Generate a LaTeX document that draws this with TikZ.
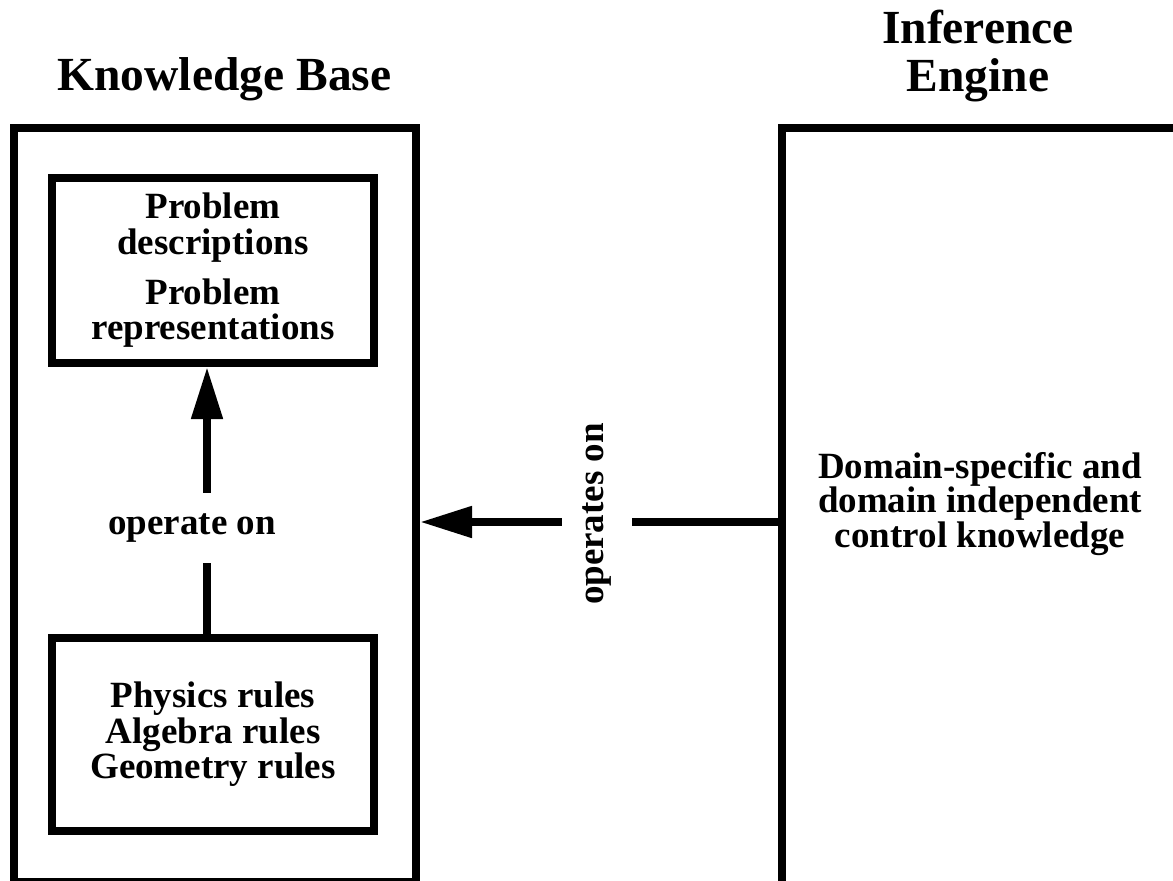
\documentclass[tikz,border=0pt]{standalone}
\usepackage{fontspec}
\setmainfont{Liberation Serif}
\usetikzlibrary{arrows.meta}
\begin{document}
\begin{tikzpicture}[x=1pt,y=-1pt,
  frame/.style={draw, line width=8pt, inner sep=0pt},
  body/.style={font=\bfseries\fontsize{37}{35.5}\selectfont, align=center, inner sep=0pt},
  heading/.style={font=\bfseries\fontsize{47.5}{48}\selectfont, align=center, inner sep=0pt},
  link/.style={line width=8pt, -{Triangle[length=52pt,width=30pt]}},
  gaplabel/.style={body, fill=white, inner xsep=4pt, inner ysep=21pt}
]
\useasboundingbox (0,0) rectangle (1173,881);

% outer frames
\node[frame, minimum width=402pt, minimum height=754pt] (kb) at (215,505) {};
\node[frame, minimum width=418pt, minimum height=772pt] (ie) at (991,514) {};

% titles
\node[heading, anchor=base] (kbtitle) at (224.5,90) {Knowledge Base};
\node[heading] (ietitle) at (978,56) {Inference\\Engine};

% knowledge base contents
\node[frame, body, minimum width=322pt, minimum height=185pt] (desc) at (213,270.5)
  {Problem\\descriptions\\[14.5pt]Problem\\representations};
\node[frame, body, minimum width=322pt, minimum height=193pt] (rules) at (213,734.5)
  {Physics rules\\Algebra rules\\Geometry rules};

% inference engine contents
\node[body, font=\bfseries\fontsize{37}{33.5}\selectfont] (control) at (980,504)
  {Domain-specific and\\domain independent\\control knowledge};

% connectors
\coordinate (vx) at (207,500);
\draw[link] (rules.north -| vx) -- (desc.south -| vx);
\node[gaplabel] (op) at (192,528) {operate on};

\coordinate (mid) at (598,522);
\draw[link] (ie.west |- mid) -- (kb.east |- mid);
\node[gaplabel, rotate=90] (ops) at (597,514) {operates on};
\end{tikzpicture}
\end{document}
